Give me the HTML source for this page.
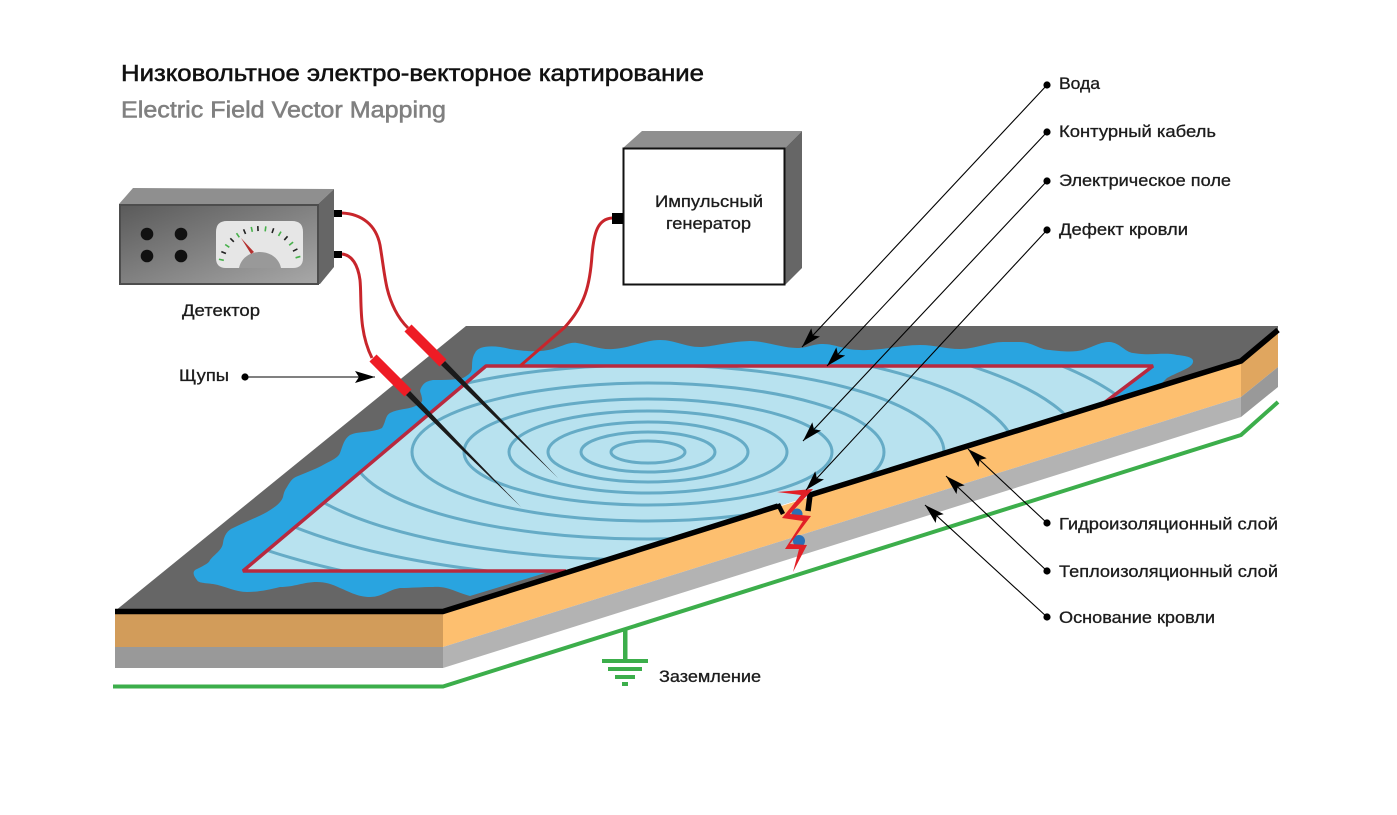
<!DOCTYPE html>
<html><head><meta charset="utf-8"><style>
html,body{margin:0;padding:0;background:#fff}
svg{display:block}
text{font-family:"Liberation Sans","Noto Sans CJK SC",sans-serif;fill:#1c1c1c;font-size:16.5px;stroke:#1c1c1c;stroke-width:.3px}
</style></head><body>
<svg width="1397" height="815" viewBox="0 0 1397 815" xmlns="http://www.w3.org/2000/svg">
<defs>
<marker id="a" markerUnits="userSpaceOnUse" markerWidth="24" markerHeight="14" refX="20" refY="6" orient="auto"><path d="M0 0L20 6L0 12L4 6Z" fill="#000"/></marker>
<linearGradient id="g1" x1="0" y1="0" x2="1" y2="1"><stop offset="0" stop-color="#5a5a5a"/><stop offset="1" stop-color="#a8a8a8"/></linearGradient>
<clipPath id="c"><polygon points="486,366 1153,366 1104,404 571,571 243,571"/></clipPath>
</defs>

<text x="121" y="81" style="font-size:23.5px;stroke:#111;stroke-width:.55px;fill:#111" textLength="583" lengthAdjust="spacingAndGlyphs">Низковольтное электро-векторное картирование</text>
<text x="121" y="117.500" style="font-size:23.5px;stroke:#808080;stroke-width:.55px;fill:#808080" textLength="325" lengthAdjust="spacingAndGlyphs">Electric Field Vector Mapping</text>

<!-- slab -->
<polygon points="466,326 1278,326 1278,333 1241,361 443,611 115,611" fill="#666"/>
<polygon points="115,612 443,612 443,647 115,647" fill="#d29c5a"/>
<polygon points="115,647 443,647 443,668 115,668" fill="#999"/>
<polygon points="443,612 1241,362 1241,397 443,647" fill="#fdbf6f"/>
<polygon points="443,647 1241,397 1241,417 443,668" fill="#b3b3b3"/>
<polygon points="1241,362 1278,332 1278,367 1241,397" fill="#e0a65f"/>
<polygon points="1241,397 1278,367 1278,387 1241,417" fill="#999"/>

<!-- water -->
<path d="M475,353C478,345 495,345 510,349C530,352 540,352 553,349C565,345 570,342 577,343C590,345 600,350 613,349C630,348 645,340 660,340C675,340 685,347 700,347C712,347 725,342 750,341C765,341 782,348 797,348C808,348 812,344 823,344C835,344 845,350 860,350C880,351 900,345 920,345C935,345 945,349 960,349C975,349 990,342 1003,342C1010,342 1015,342 1020,342C1032,342 1040,350 1050,350C1065,352 1075,352 1083,350C1095,346 1100,342 1110,342C1120,343 1125,352 1133,353C1150,356 1165,352 1177,355C1188,356 1194,358 1193,362C1192,368 1180,371 1167,378L1160,385L470,596C455,592 448,586 433,587C420,587 412,588 400,588C388,590 382,597 370,597C358,597 350,592 340,588C332,584 325,582 317,582C303,582 295,587 280,587C268,590 258,592 247,592C235,592 225,586 213,584C205,583 198,583 197,580C193,575 192,571 197,569C205,565 209,563 210,560C216,553 222,550 223,543C224,535 228,530 233,528C245,522 256,518 267,512C275,507 281,503 283,497C284,492 285,490 287,487C290,482 292,478 298,476C310,471 318,468 323,465C332,460 338,458 340,453C343,445 344,439 350,435C358,431 372,433 382,428C386,422 385,416 390,413C398,409 408,409 413,407C420,404 423,403 422,398C421,392 419,392 421,388C424,382 428,381 433,380C445,380 455,380 463,378C470,374 472,372 472,367C472,360 473,356 475,353Z" fill="#29a4e0"/>

<!-- field -->
<polygon points="486,366 1153,366 1104,404 571,571 243,571" fill="#b8e2ef"/>
<g clip-path="url(#c)" fill="none" stroke="#65abc6" stroke-width="3">
<ellipse cx="648" cy="452" rx="37" ry="11"/>
<ellipse cx="648" cy="452" rx="67" ry="20"/>
<ellipse cx="648" cy="452" rx="100" ry="30"/>
<ellipse cx="648" cy="452" rx="139" ry="41"/>
<ellipse cx="648" cy="452" rx="184" ry="53"/>
<ellipse cx="648" cy="452" rx="236" ry="69"/>
<ellipse cx="648" cy="452" rx="296" ry="87"/>
<ellipse cx="648" cy="452" rx="367" ry="108"/>
<ellipse cx="648" cy="452" rx="436" ry="128"/>
<ellipse cx="648" cy="452" rx="507" ry="149"/>
</g>
<polyline points="1100,406 1153,366 486,366 243,571 566,571" fill="none" stroke="#b8293f" stroke-width="3.500" stroke-linejoin="bevel"/>

<!-- black edge -->
<polyline points="115,611.5 443,611.5 778,506" fill="none" stroke="#000" stroke-width="5.500"/>
<polyline points="778,504 783,514" fill="none" stroke="#000" stroke-width="4.500"/>
<polyline points="808,511 810,495 1241,361 1278,330" fill="none" stroke="#000" stroke-width="5.500"/>

<!-- defect -->
<circle cx="797" cy="514" r="5.500" fill="#2a6fb5"/>
<circle cx="799" cy="541" r="6" fill="#2a6fb5"/>
<polygon points="777,492 813,489 790,514 811,516 790,544 807,545 793,572 799,549 785,549 803,521 782,518 801,495" fill="#e21f26"/>

<!-- green -->
<polyline points="113,686.5 443,686.5 1241,435 1278,402" fill="none" stroke="#3cae4b" stroke-width="4"/>
<rect x="623" y="630" width="4.500" height="30" fill="#3cae4b"/>
<rect x="602" y="659" width="46" height="4" fill="#3cae4b"/>
<rect x="608" y="667" width="34" height="4" fill="#3cae4b"/>
<rect x="615" y="675" width="20" height="4" fill="#3cae4b"/>
<rect x="622" y="682" width="6" height="4" fill="#3cae4b"/>

<!-- detector -->
<polygon points="119,204 133,188 334,189 318,204" fill="#8f8f8f"/>
<polygon points="318,204 334,189 334,267 320,284 318,284" fill="#666"/>
<rect x="120" y="205" width="198" height="79" fill="url(#g1)" stroke="#4d4d4d" stroke-width="2"/>
<circle cx="147" cy="234" r="6.300" fill="#111"/><circle cx="181" cy="234" r="6.300" fill="#111"/>
<circle cx="147" cy="256" r="6.300" fill="#111"/><circle cx="181" cy="256" r="6.300" fill="#111"/>
<path d="M216,232Q216,221 227,221H292Q303,221 303,232V258Q303,268 293,268H226Q216,268 216,258Z" fill="#e6e6e6"/>
<path d="M239,268C241,258 250,252 260,252C270,252 279,258 281,268Z" fill="#999"/>
<g stroke-width="1.6">
<line x1="260" y1="226" x2="260" y2="231" stroke="#46b04a" transform="rotate(-78 260 268)"/>
<line x1="260" y1="226" x2="260" y2="231" stroke="#222" transform="rotate(-67 260 268)"/>
<line x1="260" y1="226" x2="260" y2="231" stroke="#46b04a" transform="rotate(-56 260 268)"/>
<line x1="260" y1="226" x2="260" y2="231" stroke="#222" transform="rotate(-45 260 268)"/>
<line x1="260" y1="226" x2="260" y2="231" stroke="#46b04a" transform="rotate(-34 260 268)"/>
<line x1="260" y1="226" x2="260" y2="231" stroke="#222" transform="rotate(-23 260 268)"/>
<line x1="260" y1="226" x2="260" y2="231" stroke="#46b04a" transform="rotate(-12 260 268)"/>
<line x1="260" y1="226" x2="260" y2="231" stroke="#222" transform="rotate(-3 260 268)"/>
<line x1="260" y1="226" x2="260" y2="231" stroke="#46b04a" transform="rotate(8 260 268)"/>
<line x1="260" y1="226" x2="260" y2="231" stroke="#222" transform="rotate(19 260 268)"/>
<line x1="260" y1="226" x2="260" y2="231" stroke="#46b04a" transform="rotate(30 260 268)"/>
<line x1="260" y1="226" x2="260" y2="231" stroke="#222" transform="rotate(41 260 268)"/>
<line x1="260" y1="226" x2="260" y2="231" stroke="#46b04a" transform="rotate(52 260 268)"/>
<line x1="260" y1="226" x2="260" y2="231" stroke="#222" transform="rotate(63 260 268)"/>
<line x1="260" y1="226" x2="260" y2="231" stroke="#46b04a" transform="rotate(74 260 268)"/>
</g>
<polygon points="241,238 254,252 251,254" fill="#b5302f"/>
<rect x="334" y="210" width="8" height="7" fill="#000"/>
<rect x="334" y="251" width="8" height="7" fill="#000"/>

<!-- wires -->
<g fill="none" stroke="#c8252b" stroke-width="3">
<path d="M342,213C362,214 376,225 380,245C385,275 385,290 395,310C399,318 403,323 408,328"/>
<path d="M342,254C352,255 358,265 360,280C362,300 358,330 372,358"/>
<path d="M612,218C598,219 594,232 592,255C590,285 585,305 565,327L520,366"/>
</g>

<!-- probes -->
<polygon points="441,365 445,361 500,418 558,478 498,420" fill="#1a1a1a"/>
<polygon points="406,395 410,391 465,449 521,507 463,451" fill="#1a1a1a"/>
<line x1="408" y1="328" x2="443" y2="363" stroke="#ee1c25" stroke-width="10"/>
<line x1="373" y1="358" x2="408" y2="393" stroke="#ee1c25" stroke-width="10"/>

<!-- generator -->
<polygon points="623,148 642,131 802,131 785,148" fill="#8f8f8f"/>
<polygon points="785,148 802,131 802,268 785,285" fill="#666"/>
<rect x="623.500" y="148.500" width="161" height="136" fill="#fff" stroke="#111" stroke-width="2"/>
<rect x="612" y="213" width="11" height="11" fill="#000"/>

<!-- leaders -->
<g stroke="#000" stroke-width="1.100" fill="none">
<line x1="1047" y1="85" x2="802" y2="347" marker-end="url(#a)"/>
<line x1="1047" y1="132" x2="827" y2="366" marker-end="url(#a)"/>
<line x1="1047" y1="181" x2="803" y2="441" marker-end="url(#a)"/>
<line x1="1047" y1="230" x2="806" y2="490" marker-end="url(#a)"/>
<line x1="245" y1="377" x2="375" y2="377" marker-end="url(#a)"/>
<line x1="1047" y1="523" x2="968" y2="449" marker-end="url(#a)"/>
<line x1="1047" y1="571" x2="946" y2="476" marker-end="url(#a)"/>
<line x1="1047" y1="617" x2="925" y2="505" marker-end="url(#a)"/>
</g>
<g fill="#000">
<circle cx="1047" cy="85" r="3.600"/><circle cx="1047" cy="132" r="3.600"/><circle cx="1047" cy="181" r="3.600"/><circle cx="1047" cy="230" r="3.600"/>
<circle cx="245" cy="377" r="3.600"/><circle cx="1047" cy="523" r="3.600"/><circle cx="1047" cy="571" r="3.600"/><circle cx="1047" cy="617" r="3.600"/>
</g>

<!-- labels -->
<text x="1059" y="89" textLength="41" lengthAdjust="spacingAndGlyphs">Вода</text>
<text x="1059" y="137" textLength="157" lengthAdjust="spacingAndGlyphs">Контурный кабель</text>
<text x="1059" y="186" textLength="172" lengthAdjust="spacingAndGlyphs">Электрическое поле</text>
<text x="1059" y="235" textLength="129" lengthAdjust="spacingAndGlyphs">Дефект кровли</text>
<text x="1059" y="529.500" textLength="219" lengthAdjust="spacingAndGlyphs">Гидроизоляционный слой</text>
<text x="1059" y="577" textLength="219" lengthAdjust="spacingAndGlyphs">Теплоизоляционный слой</text>
<text x="1059" y="623" textLength="156" lengthAdjust="spacingAndGlyphs">Основание кровли</text>
<text x="182" y="316" textLength="78" lengthAdjust="spacingAndGlyphs">Детектор</text>
<text x="179" y="381" textLength="50" lengthAdjust="spacingAndGlyphs">Щупы</text>
<text x="655" y="207" textLength="108" lengthAdjust="spacingAndGlyphs">Импульсный</text>
<text x="666" y="229" textLength="85" lengthAdjust="spacingAndGlyphs">генератор</text>
<text x="659" y="682" textLength="102" lengthAdjust="spacingAndGlyphs">Заземление</text>
</svg>
</body></html>
